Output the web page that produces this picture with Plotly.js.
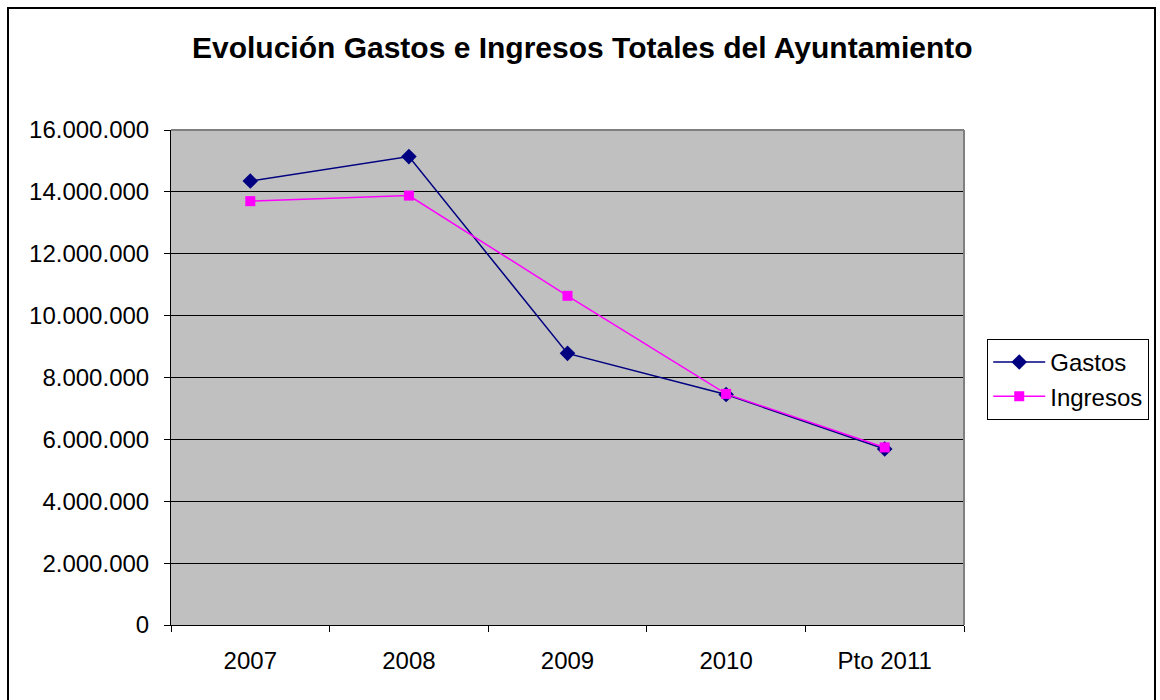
<!DOCTYPE html>
<html>
<head>
<meta charset="utf-8">
<script src="https://cdn.plot.ly/plotly-3.0.1.min.js"></script>
<style>
  html, body { margin:0; padding:0; background:#fff; }
  #wrap { position:relative; width:1160px; height:700px; }
  #chart { width:1160px; height:700px; }
  #frame { position:absolute; left:7px; top:7px; width:1149px; height:700px; border:2px solid #000; border-bottom:none; box-sizing:border-box; pointer-events:none; }
</style>
</head>
<body>
<div id="wrap">
  <div id="chart"></div>
  <div id="frame"></div>
</div>
<script>
const categories = ["2007", "2008", "2009", "2010", "Pto 2011"];
const gastos = [14350000, 15140000, 8780000, 7450000, 5690000];
const ingresos = [13700000, 13880000, 10640000, 7470000, 5740000];
const yTickVals = [0, 2000000, 4000000, 6000000, 8000000, 10000000, 12000000, 14000000, 16000000];
const yTickText = ["0", "2.000.000", "4.000.000", "6.000.000", "8.000.000", "10.000.000", "12.000.000", "14.000.000", "16.000.000"];

const font = "Liberation Sans, Arial, sans-serif";

const traces = [
  {
    x: categories, y: gastos, name: "Gastos", type: "scatter", mode: "lines+markers",
    line: { color: "#000080", width: 1.5 },
    marker: { symbol: "diamond", size: 12, color: "#000080" }
  },
  {
    x: categories, y: ingresos, name: "Ingresos", type: "scatter", mode: "lines+markers",
    line: { color: "#FF00FF", width: 1.5 },
    marker: { symbol: "square", size: 10, color: "#FF00FF" }
  }
];

const layout = {
  width: 1160, height: 700,
  margin: { l: 171, r: 195, t: 130, b: 75 },
  paper_bgcolor: "#ffffff",
  plot_bgcolor: "#C0C0C0",
  font: { family: font, size: 24, color: "#000" },
  title: {
    text: "<b>Evolución Gastos e Ingresos Totales del Ayuntamiento</b>",
    font: { family: font, size: 30, color: "#000" },
    x: 0.502, xanchor: "center", y: 0.932, yanchor: "middle"
  },
  xaxis: {
    type: "category",
    tickson: "boundaries",
    ticks: "outside", ticklen: 6, tickcolor: "#000", tickwidth: 1,
    ticklabelstandoff: 14,
    showline: true, linecolor: "#000", linewidth: 1,
    showgrid: false, zeroline: false,
    mirror: false,
    tickfont: { family: font, size: 24, color: "#000" },
    range: [-0.5, 4.5]
  },
  yaxis: {
    range: [0, 16000000],
    tickvals: yTickVals, ticktext: yTickText,
    ticks: "outside", ticklen: 6, tickcolor: "#000", tickwidth: 1,
    ticklabelstandoff: 10,
    showline: true, linecolor: "#000", linewidth: 1,
    showgrid: true, gridcolor: "#000", gridwidth: 1,
    zeroline: false,
    tickfont: { family: font, size: 24, color: "#000" }
  },
  shapes: [
    { type: "line", xref: "paper", yref: "paper", x0: 0, x1: 1, y0: 1, y1: 1, line: { color: "#808080", width: 2 } },
    { type: "line", xref: "paper", yref: "paper", x0: 1, x1: 1, y0: 0, y1: 1, line: { color: "#808080", width: 2 } }
  ],
  legend: {
    x: 1.028, xanchor: "left", y: 0.578, yanchor: "top",
    bordercolor: "#000", borderwidth: 1, bgcolor: "#fff",
    font: { family: font, size: 24, color: "#000" },
    tracegroupgap: 4, itemwidth: 52
  },
  showlegend: true
};

Plotly.newPlot("chart", traces, layout, { displayModeBar: false, staticPlot: true });
</script>
</body>
</html>
